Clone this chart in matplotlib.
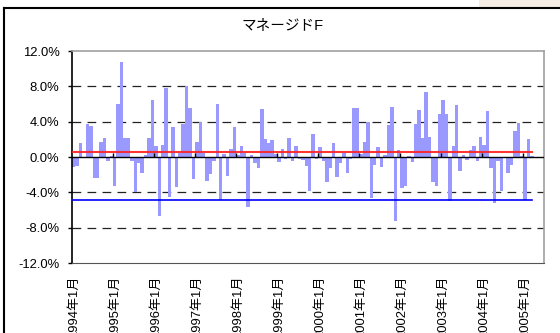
#!/usr/bin/env python3
"""Monthly returns bar chart for the managed futures index."""

import matplotlib

matplotlib.use("Agg")
import matplotlib.pyplot as plt
import numpy as np
from matplotlib.lines import Line2D
from matplotlib.patches import Rectangle
from matplotlib.ticker import FuncFormatter

plt.rcParams["font.family"] = ["Liberation Sans", "Noto Sans CJK JP", "DejaVu Sans"]

TITLE = "マネージドF"

# monthly returns (%), 1994/01 .. 2005/03
returns = [
    -1.1, -1.0, 1.6, -0.1, 3.7, 3.5, -2.4, -2.4, 1.7, 2.2, -0.5, 0.15,
    -3.3, 6.0, 10.8, 2.1, 2.1, -0.5, -4.0, -0.65, -1.8, 0.2, 2.1, 6.5,
    1.3, -6.7, 1.4, 7.85, -4.5, 3.35, -3.35, 0.4, 3.7, 8.0, 5.5, -2.5,
    1.7, 4.0, 0.4, -2.7, -1.9, -0.5, 6.0, -4.9, 0.35, -2.2, 0.9, 3.35,
    0.2, 1.3, 0.5, -5.7, 0.2, -0.7, -1.2, 5.4, 2.0, 1.6, 1.9, 0.3,
    -0.6, 0.9, -0.2, 2.2, -0.5, 1.3, -0.2, -0.3, -1.0, -3.8, 2.65, -0.2,
    1.15, -0.45, -2.85, -1.3, 1.6, -2.3, -0.65, 0.5, -1.8, -0.2, 5.5, 5.5,
    0.3, 1.7, 4.0, -4.6, -0.9, 1.15, -1.15, 0.2, 3.6, 5.65, -7.3, 0.8,
    -3.5, -3.3, 0.1, -0.55, 3.7, 5.3, 2.1, 7.4, 2.3, -2.85, -3.3, 4.85,
    6.45, 4.85, -5.0, 1.3, 5.9, -1.6, 0.2, -0.3, 0.8, 1.3, -0.45, 2.3,
    1.4, 5.2, -1.2, -5.25, -0.45, -3.9, -0.1, -1.8, -0.9, 3.0, 3.9, 0.1,
    -4.9, 2.0, 0.1,
]
mean_line = 0.6     # average monthly return
risk_line = -4.9    # downside level

first_year = 1994
n_years = 12
n_slots = 138       # category slots on the axis
y_ticks = [-12, -8, -4, 0, 4, 8, 12]

fig = plt.figure(figsize=(5.6, 3.33), dpi=100)
fig.patch.set_facecolor("white")

# chart frame pieces along the top and left
fig.patches.append(Rectangle((479 / 560, 1 - 8 / 333), 81 / 560, 8 / 333,
                             transform=fig.transFigure, facecolor="#f5ede3",
                             edgecolor="none"))
fig.lines.append(Line2D([4 / 560, 1], [1 - 8 / 333, 1 - 8 / 333],
                        transform=fig.transFigure, color="black", lw=1.5))
fig.lines.append(Line2D([4 / 560, 4 / 560], [0, 1 - 8 / 333],
                        transform=fig.transFigure, color="black", lw=1.5))

ax = fig.add_axes([72 / 560, 1 - 263 / 333, 472 / 560, 212 / 333])

x = np.arange(len(returns))
ax.bar(x, returns, width=1.0, color="#9999ff", edgecolor="none", zorder=2)

ax.plot([x[0] - 0.5, x[-1]], [mean_line, mean_line], color="#ff2020", lw=1.5,
        alpha=0.9, zorder=3)
ax.plot([x[0] - 0.5, x[-1]], [risk_line, risk_line], color="#0000ff", lw=1.2,
        zorder=3)

# category axis at zero with year tick marks
ax.axhline(0, color="black", lw=1.0, zorder=4)
bounds = np.arange(12, n_slots, 12) - 0.5
ax.vlines(bounds, 0, 0.45, color="black", lw=1.0, zorder=4)

for v in y_ticks:
    if v not in (0, -12, 12):
        ax.axhline(v, color="#222222", lw=0.9, ls=(0, (7, 5)), zorder=1)

ax.set_xlim(-0.5, n_slots - 0.5)
ax.set_ylim(-12, 12)
ax.set_yticks(y_ticks)
ax.yaxis.set_major_formatter(FuncFormatter(lambda v, _: f"{v:.1f}%"))
ax.tick_params(axis="y", length=3, width=1, labelsize=9.4, pad=6)

label_pos = np.arange(0, n_years * 12, 12)
ax.set_xticks(label_pos)
ax.set_xticklabels([f"{first_year + i}年1月" for i in range(n_years)],
                   rotation=90, fontsize=9.4)
ax.tick_params(axis="x", length=0, pad=9)

ax.spines["left"].set_color("black")
ax.spines["left"].set_linewidth(1.2)
ax.spines["bottom"].set_color("#555555")
for side in ("top", "right"):
    ax.spines[side].set_color("#a0a0a0")
    ax.spines[side].set_linewidth(1.2)

fig.text(283 / 560, 1 - 25 / 333, TITLE, ha="center", va="center", fontsize=10.5)

fig.savefig("out.png", dpi=100)
